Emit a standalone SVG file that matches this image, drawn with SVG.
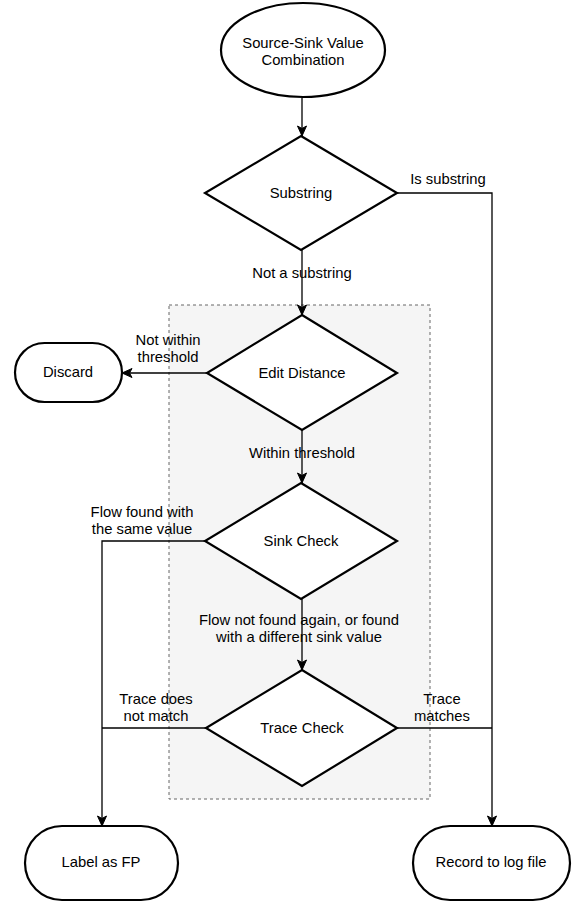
<svg xmlns="http://www.w3.org/2000/svg" width="574" height="903" viewBox="0 0 574 903">
<style>
text{font-family:"Liberation Sans",Arial,sans-serif;font-size:14.8px;fill:#000;text-anchor:middle}
.n{fill:#fff;stroke:#000;stroke-width:2.2}
.e{fill:none;stroke:#000;stroke-width:1.3}
.g{fill:#f5f5f5;stroke:#666;stroke-width:1;stroke-dasharray:3 3}
</style>
<defs>
<marker id="a" markerUnits="userSpaceOnUse" markerWidth="12" markerHeight="12" viewBox="0 0 12 12" refX="11" refY="6" orient="auto">
<path d="M1,1.5 L11,6 L1,10.5 L3.5,6 Z" fill="#000" stroke="#000" stroke-width="1"/>
</marker>
</defs>
<rect id="group" class="g" x="169" y="305" width="261" height="494"/>
<g id="connectors">
<path class="e" d="M302,98 V136" marker-end="url(#a)"/>
<path class="e" d="M397,193 H492 V826" marker-end="url(#a)"/>
<path class="e" d="M302,250 V315" marker-end="url(#a)"/>
<path class="e" d="M207,373 H122" marker-end="url(#a)"/>
<path class="e" d="M302,430 V483" marker-end="url(#a)"/>
<path class="e" d="M205,541 H102 V826" marker-end="url(#a)"/>
<path class="e" d="M302,599 V670" marker-end="url(#a)"/>
<path class="e" d="M206,728 H102"/>
<path class="e" d="M397,728 H492"/>
<text x="448" y="184">Is substring</text>
<text x="302" y="278">Not a substring</text>
<text x="168" y="345">Not within</text>
<text x="168" y="362">threshold</text>
<text x="302" y="458">Within threshold</text>
<text x="142" y="517">Flow found with</text>
<text x="142" y="534">the same value</text>
<text x="299" y="625">Flow not found again, or found</text>
<text x="299" y="642">with a different sink value</text>
<text x="156" y="704">Trace does</text>
<text x="156" y="721">not match</text>
<text x="442" y="704">Trace</text>
<text x="442" y="721">matches</text>
</g>
<g id="start">
<ellipse class="n" cx="303" cy="50" rx="82" ry="47"/>
<text x="303" y="48">Source-Sink Value</text>
<text x="303" y="65">Combination</text>
</g>
<g id="substring">
<path class="n" d="M301,136 L397,193 L301,250 L205,193 Z"/>
<text x="301" y="198">Substring</text>
</g>
<g id="editdistance">
<path class="n" d="M302,315 L397,373 L302,430 L207,373 Z"/>
<text x="302" y="378">Edit Distance</text>
</g>
<g id="discard">
<rect class="n" x="15" y="343" width="107" height="59" rx="29.5"/>
<text x="68" y="377">Discard</text>
</g>
<g id="sinkcheck">
<path class="n" d="M301,483 L397,541 L301,599 L205,541 Z"/>
<text x="301" y="546">Sink Check</text>
</g>
<g id="tracecheck">
<path class="n" d="M302,670 L397,728 L302,786 L206,728 Z"/>
<text x="302" y="733">Trace Check</text>
</g>
<g id="labelfp">
<rect class="n" x="25" y="826" width="153" height="74" rx="37"/>
<text x="101" y="867">Label as FP</text>
</g>
<g id="record">
<rect class="n" x="413" y="826" width="157" height="74" rx="37"/>
<text x="491" y="867">Record to log file</text>
</g>
</svg>
